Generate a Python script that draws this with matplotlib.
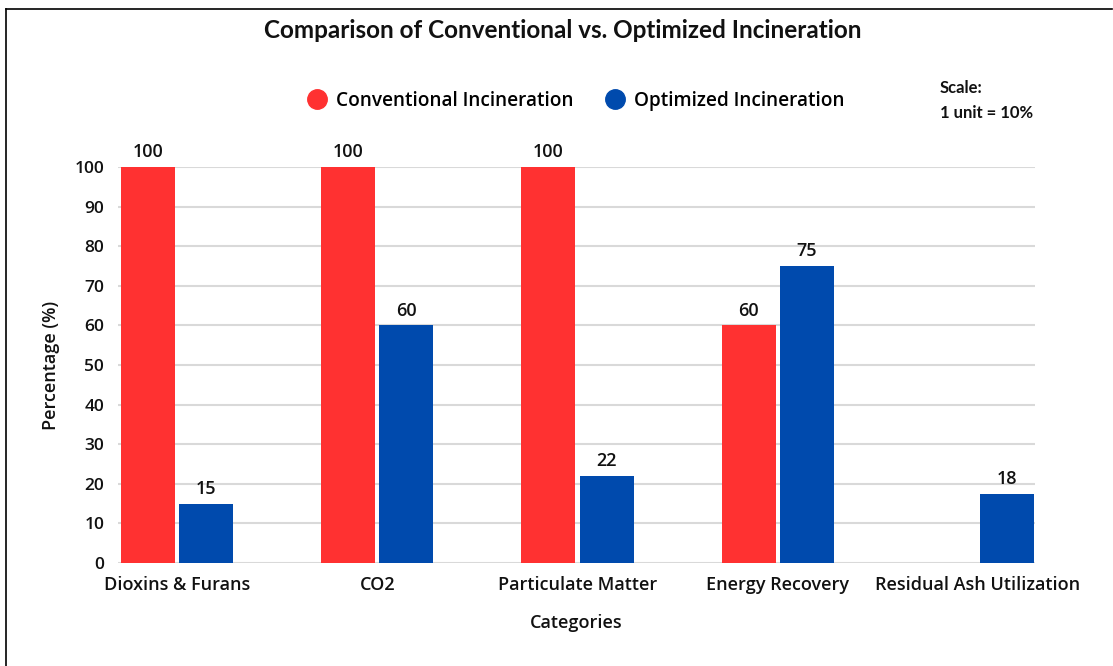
import matplotlib
matplotlib.use("Agg")
import matplotlib.pyplot as plt
from matplotlib.lines import Line2D
import numpy as np

categories = ["Dioxins & Furans", "CO2", "Particulate Matter", "Energy Recovery", "Residual Ash Utilization"]
conventional = [100, 100, 100, 60, 0]
optimized = [15, 60, 22, 75, 17.5]
yticks = [0, 10, 20, 30, 40, 50, 60, 70, 80, 90, 100]

RED = "#FF3131"
BLUE = "#004AAD"
FONT = ["Open Sans", "DejaVu Sans"]
TXT = "#111111"

W, H = 1113, 666
fig = plt.figure(figsize=(W / 100, H / 100), dpi=100)
ax = fig.add_axes([118 / W, 1 - 563 / H, (1035 - 118) / W, (563 - 167) / H])

x = np.arange(len(categories))
bw = 0.27
off = 0.145
b1 = ax.bar(x - off, conventional, bw, color=RED, zorder=3)
b2 = ax.bar(x + off, optimized, bw, color=BLUE, zorder=3)

for bars, vals in ((b1, conventional), (b2, optimized)):
    for rect, v in zip(bars, vals):
        if v <= 0:
            continue
        ax.annotate(f"{v:.0f}", (rect.get_x() + rect.get_width() / 2, v),
                    xytext=(0, 4), textcoords="offset points", ha="center", va="bottom",
                    fontsize=13, fontweight="semibold", family=FONT, color=TXT)

ax.set_xlim(-0.2946, 4.2846)
ax.set_ylim(0, 100)
ax.set_yticks(yticks)
ax.set_yticklabels([str(t) for t in yticks], fontsize=12.5, fontweight="semibold", family=FONT, color=TXT)
ax.set_xticks(x)
ax.set_xticklabels(categories, fontsize=13, fontweight="semibold", family=FONT, color=TXT)
ax.tick_params(axis="both", length=0)
ax.tick_params(axis="y", pad=10)
ax.tick_params(axis="x", pad=9)
ax.grid(axis="y", color="#D9D9D9", linewidth=1.5, zorder=0)
for s in ax.spines.values():
    s.set_visible(False)

ax.set_ylabel("Percentage (%)", fontsize=13, fontweight="semibold", family=FONT, color=TXT, labelpad=10)
ax.set_xlabel("Categories", fontsize=13, fontweight="semibold", family=FONT, color=TXT, labelpad=15)

fig.text(563 / W, 1 - 31 / H, "Comparison of Conventional vs. Optimized Incineration",
         ha="center", va="center", fontsize=17.5, fontweight="bold", family=["Lato", "DejaVu Sans"], color=TXT)

handles = [Line2D([], [], marker="o", linestyle="none", markersize=14, markerfacecolor=RED, markeredgecolor=RED),
           Line2D([], [], marker="o", linestyle="none", markersize=14, markerfacecolor=BLUE, markeredgecolor=BLUE)]
fig.legend(handles, ["Conventional Incineration", "Optimized Incineration"], loc="center",
           bbox_to_anchor=(573 / W, 1 - 101 / H), ncol=2, frameon=False, handletextpad=0.2,
           handlelength=1.6, columnspacing=1.35, prop={"family": FONT, "weight": "semibold", "size": 13.7})

fig.text(940 / W, 1 - 88 / H, "Scale:", ha="left", va="center", fontsize=12,
         fontweight="bold", family=["Lato", "DejaVu Sans"], color=TXT)
fig.text(940 / W, 1 - 113 / H, "1 unit = 10%", ha="left", va="center", fontsize=12,
         fontweight="bold", family=["Lato", "DejaVu Sans"], color=TXT)

# frame lines
fig.add_artist(Line2D([6 / W, 6 / W], [0, 1 - 9 / H], color="black", linewidth=1.2, transform=fig.transFigure))
fig.add_artist(Line2D([6 / W, 1112 / W], [1 - 9 / H, 1 - 9 / H], color="black", linewidth=1.2, transform=fig.transFigure))

fig.savefig("out.png", dpi=100)
